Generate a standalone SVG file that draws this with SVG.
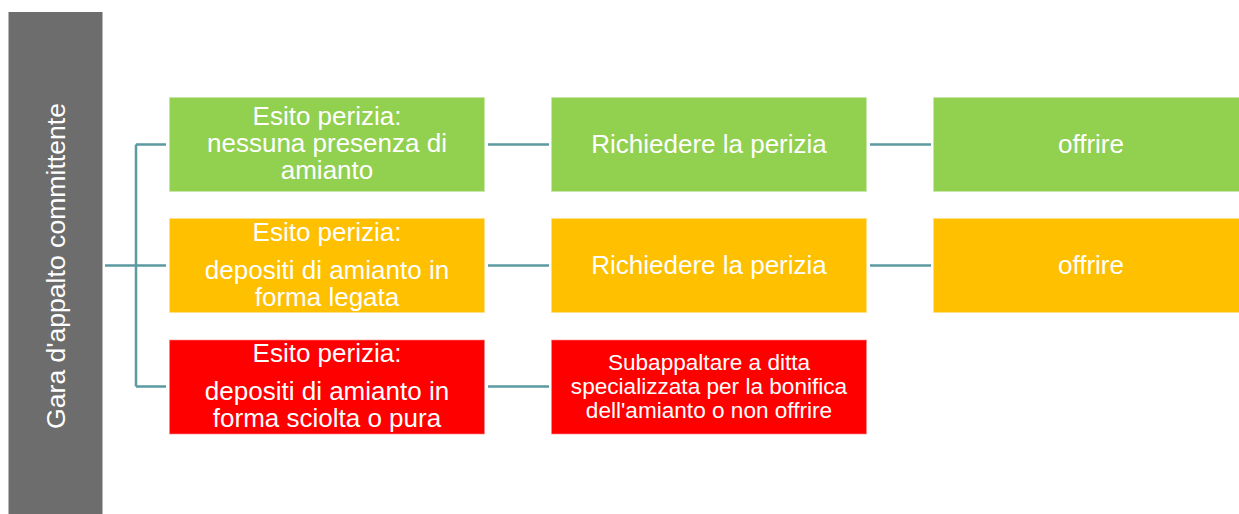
<svg xmlns="http://www.w3.org/2000/svg" width="1239" height="514" viewBox="0 0 1239 514">
<style>
.box{stroke-width:1;stroke-opacity:0.6}
.g{fill:#92d050;stroke:#c6e6a8}
.o{fill:#ffc000;stroke:#ffe08a}
.r{fill:#ff0000;stroke:#ff8a8a}
.t{font-family:"Liberation Sans",Arial,sans-serif;font-size:26px;fill:#ffffff;text-anchor:middle}
.s{font-size:22.6px}
.v{font-size:26.6px}
.c{stroke:#5b9aa0;stroke-width:2.5;fill:none}
</style>
<rect width="1239" height="514" fill="#ffffff"/>
<g id="root">
<rect x="8.5" y="12" width="94" height="502" fill="#6d6d6d"/>
<text class="t v" transform="translate(65,266) rotate(-90)">Gara d'appalto committente</text>
</g>
<g id="connectors">
<path class="c" d="M105,265.5 H166 M136,144.5 V386.5 M136,144.5 H166 M136,386.5 H166"/>
<path class="c" d="M488,144.5 H549 M488,265.5 H549 M488,386.5 H549"/>
<path class="c" d="M870,144.5 H931 M870,265.5 H931"/>
</g>
<g id="n1">
<rect class="box g" x="169.5" y="97.5" width="315" height="94"/>
<text class="t" x="327" y="125">Esito perizia:</text>
<text class="t" x="327" y="152">nessuna presenza di</text>
<text class="t" x="327" y="179">amianto</text>
</g>
<g id="n2">
<rect class="box g" x="551.5" y="97.5" width="315" height="94"/>
<text class="t" x="709" y="153">Richiedere la perizia</text>
</g>
<g id="n3">
<rect class="box g" x="933.5" y="97.5" width="306" height="94"/>
<text class="t" x="1091" y="153">offrire</text>
</g>
<g id="n4">
<rect class="box o" x="169.5" y="218.5" width="315" height="94"/>
<text class="t" x="327" y="241">Esito perizia:</text>
<text class="t" x="327" y="279">depositi di amianto in</text>
<text class="t" x="327" y="306">forma legata</text>
</g>
<g id="n5">
<rect class="box o" x="551.5" y="218.5" width="315" height="94"/>
<text class="t" x="709" y="274">Richiedere la perizia</text>
</g>
<g id="n6">
<rect class="box o" x="933.5" y="218.5" width="306" height="94"/>
<text class="t" x="1091" y="274">offrire</text>
</g>
<g id="n7">
<rect class="box r" x="169.5" y="340" width="315" height="94"/>
<text class="t" x="327" y="362">Esito perizia:</text>
<text class="t" x="327" y="400">depositi di amianto in</text>
<text class="t" x="327" y="427">forma sciolta o pura</text>
</g>
<g id="n8">
<rect class="box r" x="551.5" y="340" width="315" height="94"/>
<text class="t s" x="709" y="370">Subappaltare a ditta</text>
<text class="t s" x="709" y="394">specializzata per la bonifica</text>
<text class="t s" x="709" y="418">dell'amianto o non offrire</text>
</g>
</svg>
